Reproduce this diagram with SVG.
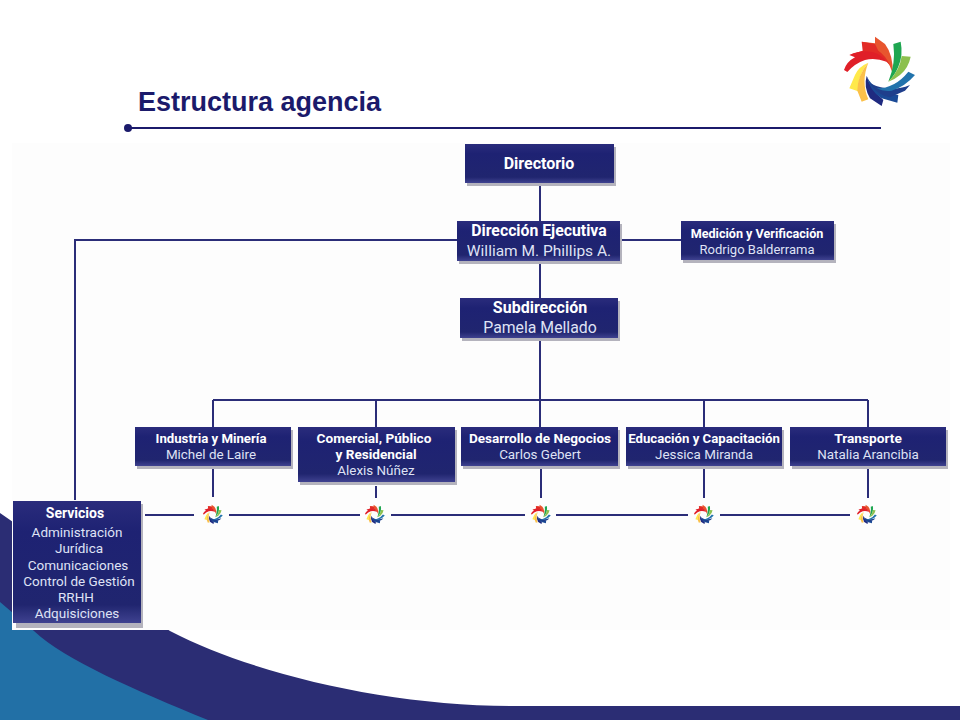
<svg xmlns="http://www.w3.org/2000/svg" width="960" height="720" viewBox="0 0 960 720">
<style>
.n{fill:url(#g)}
.s{fill:#b4b3bd}
.h{font:700 13.5px Roboto,"Liberation Sans",sans-serif;fill:#fff;text-anchor:middle}
.p{font:400 13.5px Roboto,"Liberation Sans",sans-serif;fill:#dfe2f5;text-anchor:middle}
.c{stroke:#2b2d78;stroke-width:2;fill:none}
</style>
<defs>
<linearGradient id="g" x1="0" y1="0" x2="0" y2="1"><stop offset="0" stop-color="#2a2c7c"/><stop offset=".25" stop-color="#1e2273"/><stop offset=".85" stop-color="#20256f"/><stop offset="1" stop-color="#3f4290"/></linearGradient>
<symbol id="logo" viewBox="0 0 360 300" overflow="visible">
<path fill="#e8552e" d="M165 50L195 72Q220 105 218 160Q205 115 170 92L125 65L165 70Z"/>
<path fill="#e22b26" d="M125 65L165 72L175 92Q195 105 210 135Q185 110 150 100Q120 95 88 105L128 92Z"/>
<path fill="#e01f28" d="M88 105Q125 88 160 97Q185 105 200 125Q165 112 135 120Q105 130 82 156L72 150Q80 125 105 112Z"/>
<path fill="#ffe94a" d="M145 128Q115 140 105 165L88 205L114 214Q112 165 145 128Z"/>
<path fill="#fbc04a" d="M145 128Q112 165 112 212L125 245L145 238Q122 185 145 128Z"/>
<path fill="#1f2a80" d="M140 168Q150 205 190 240L185 258L150 235Q130 200 140 168Z"/>
<path fill="#1a4a96" d="M140 168Q160 215 235 225L232 248L185 235Q150 215 140 168Z"/>
<path fill="#1f3f8c" d="M150 190Q210 220 270 195L255 212L210 232Q170 225 150 190Z"/>
<path fill="#2273ac" d="M170 205Q225 205 265 155L285 165Q255 200 215 212Q190 215 170 205Z"/>
<path fill="#1ea650" d="M220 72L242 65Q250 105 235 140Q225 165 205 185Q228 130 220 72Z"/>
<path fill="#8cc04e" d="M245 108L272 110Q265 145 240 165Q225 178 205 185Q240 150 245 108Z"/>
</symbol>
</defs>
<rect width="960" height="720" fill="#fff"/>
<path fill="#2b2d74" d="M0 513L170 631C255 675 390 706 514 706H960V720H0Z"/>
<path fill="#2270a6" d="M0 602L34 631C65 660 135 690 208 720H0Z"/>
<rect x="12" y="143" width="938" height="487" fill="#fdfdfd"/>
<use href="#logo" x="820" y="20" width="120" height="100"/>
<text x="138" y="111" font-family="Liberation Sans,sans-serif" font-weight="700" font-size="27" fill="#1b1a6b">Estructura agencia</text>
<path d="M128 128H881" stroke="#1b1a6b" stroke-width="2"/>
<circle cx="128" cy="128" r="4" fill="#1b1a6b"/>
<g id="connectors" class="c">
<path d="M540 186V221M540 263V298M540 340V427M213 400H868M213 400V427M376 400V427M704 400V427M868 400V427"/>
<path d="M457 240H75V501M620 240H681"/>
<path d="M213 467V497M376 486V498M541 469V498M704 469V498M868 469V498"/>
<path d="M145 515H194M229 515H360M391 515H525M556 515H688M720 515H850"/>
</g>
<g id="directorio"><rect class="s" x="467" y="147" width="149" height="39"/><rect class="n" x="465" y="144" width="149" height="39"/><text class="h" x="539" y="169" style="font-size:16px">Directorio</text></g>
<g id="direccion"><rect class="s" x="459" y="224" width="163" height="40"/><rect class="n" x="457" y="221" width="163" height="40"/><text class="h" x="539" y="236" style="font-size:15.8px">Dirección Ejecutiva</text><text class="p" x="539" y="256" style="font-size:15.5px">William M. Phillips A.</text></g>
<g id="medicion"><rect class="s" x="683" y="224" width="153" height="39"/><rect class="n" x="681" y="221" width="153" height="39"/><text class="h" x="757" y="238" style="font-size:12.6px">Medición y Verificación</text><text class="p" x="757" y="254" style="font-size:13px">Rodrigo Balderrama</text></g>
<g id="subdireccion"><rect class="s" x="462" y="301" width="158" height="40"/><rect class="n" x="460" y="298" width="158" height="40"/><text class="h" x="540" y="313" style="font-size:16px">Subdirección</text><text class="p" x="540" y="333" style="font-size:15.8px">Pamela Mellado</text></g>
<g id="industria"><rect class="s" x="137" y="430" width="156" height="39"/><rect class="n" x="135" y="427" width="156" height="39"/><text class="h" x="211" y="443" style="font-size:13.2px">Industria y Minería</text><text class="p" x="211" y="459" style="font-size:13.4px">Michel de Laire</text></g>
<g id="comercial"><rect class="s" x="300" y="430" width="157" height="55"/><rect class="n" x="298" y="427" width="157" height="55"/><text class="h" x="374" y="443" style="font-size:13.6px">Comercial, Público</text><text class="h" x="376" y="459" style="font-size:13.6px">y Residencial</text><text class="p" x="376" y="475" style="font-size:13.4px">Alexis Núñez</text></g>
<g id="desarrollo"><rect class="s" x="463" y="430" width="157" height="39"/><rect class="n" x="461" y="427" width="157" height="39"/><text class="h" x="540" y="443" style="font-size:13.6px">Desarrollo de Negocios</text><text class="p" x="540" y="459" style="font-size:13.4px">Carlos Gebert</text></g>
<g id="educacion"><rect class="s" x="628" y="430" width="156" height="39"/><rect class="n" x="626" y="427" width="156" height="39"/><text class="h" x="704" y="443" style="font-size:13.2px">Educación y Capacitación</text><text class="p" x="704" y="459" style="font-size:13.4px">Jessica Miranda</text></g>
<g id="transporte"><rect class="s" x="792" y="430" width="156" height="39"/><rect class="n" x="790" y="427" width="156" height="39"/><text class="h" x="868" y="443" style="font-size:13.7px">Transporte</text><text class="p" x="868" y="459" style="font-size:13.4px">Natalia Arancibia</text></g>
<g id="servicios"><rect x="12" y="500" width="131" height="130" fill="#fdfdfd"/><rect class="s" x="16" y="504" width="127" height="124"/><rect class="n" x="13" y="501" width="128" height="122"/><text class="h" x="75" y="518" style="font-size:14px">Servicios</text><text class="p" x="77" y="537">Administración</text><text class="p" x="79" y="553">Jurídica</text><text class="p" x="78" y="570">Comunicaciones</text><text class="p" x="79" y="586">Control de Gestión</text><text class="p" x="76" y="602">RRHH</text><text class="p" x="77" y="618">Adquisiciones</text></g>
<g id="logos">
<use href="#logo" x="196" y="500" width="34" height="28"/>
<use href="#logo" x="358" y="500" width="34" height="28"/>
<use href="#logo" x="524" y="500" width="34" height="28"/>
<use href="#logo" x="687" y="500" width="34" height="28"/>
<use href="#logo" x="850" y="500" width="34" height="28"/>
</g>
</svg>
